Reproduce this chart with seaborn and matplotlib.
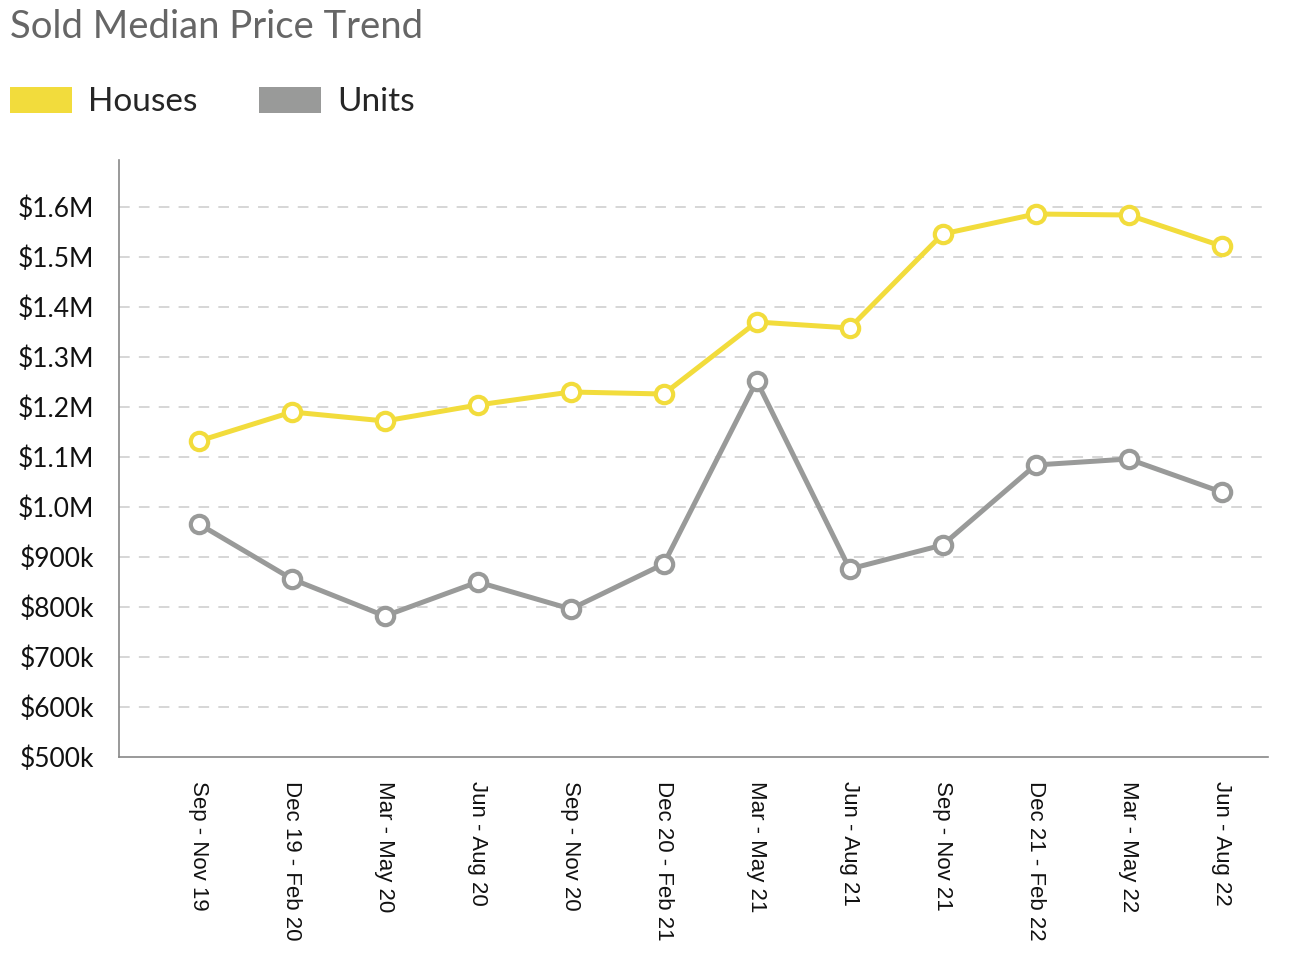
import matplotlib
matplotlib.use("Agg")
import matplotlib.pyplot as plt
import seaborn as sns
import pandas as pd
import numpy as np
from matplotlib.patches import Patch
from matplotlib.ticker import FixedLocator, FuncFormatter

periods = ["Sep - Nov 19", "Dec 19 - Feb 20", "Mar - May 20", "Jun - Aug 20",
           "Sep - Nov 20", "Dec 20 - Feb 21", "Mar - May 21", "Jun - Aug 21",
           "Sep - Nov 21", "Dec 21 - Feb 22", "Mar - May 22", "Jun - Aug 22"]
houses = [1132000, 1190000, 1172000, 1204000, 1230000, 1226000,
          1370000, 1358000, 1546000, 1586000, 1584000, 1522000]
units = [966000, 856000, 782000, 850000, 796000, 886000,
         1252000, 876000, 924000, 1084000, 1096000, 1030000]
series_names = ["Houses", "Units"]
y_ticks = [500000, 600000, 700000, 800000, 900000, 1000000, 1100000,
           1200000, 1300000, 1400000, 1500000, 1600000]

colors = {"Houses": "#F2DC3C", "Units": "#999A99"}

sns.set_theme(style="white")
plt.rcParams['font.family'] = ['Lato', 'DejaVu Sans']

df = pd.DataFrame({
    "idx": list(range(len(periods))) * 2,
    "value": houses + units,
    "series": ["Houses"] * len(periods) + ["Units"] * len(periods),
})

fig = plt.figure(figsize=(13.06, 9.68), dpi=100)
ax = fig.add_axes([119 / 1306, 1 - 757 / 968, (1268 - 119) / 1306, (757 - 160) / 968])

for name in series_names:
    sub = df[df.series == name]
    sns.lineplot(data=sub, x="idx", y="value", ax=ax, color=colors[name],
                 linewidth=3.6, marker="o", markersize=12.5,
                 markerfacecolor="white", markeredgecolor=colors[name],
                 markeredgewidth=3.0, legend=False, zorder=3)

ax.set_xlim(-0.86, 11.5)
ax.set_ylim(500000, 1694000)

ax.yaxis.set_major_locator(FixedLocator(y_ticks))
def fmt(v, pos):
    if v >= 1000000:
        return f"${v/1e6:.1f}M"
    return f"${int(round(v/1000))}k"
ax.yaxis.set_major_formatter(FuncFormatter(fmt))
ax.tick_params(axis="y", length=0, pad=18, labelsize=19, labelcolor="#111111")

ax.set_xticks(range(len(periods)))
ax.set_xticklabels(periods, rotation=270, fontsize=16, color="#111111",
                   family=["Liberation Sans", "DejaVu Sans"])
ax.tick_params(axis="x", which="major", length=0, pad=17)
ax.set_xticks(np.arange(len(periods)) + 0.5, minor=True)
ax.tick_params(axis="x", which="minor", length=9.5, width=1, color="#999999",
               direction="out")
for lbl in ax.get_xticklabels():
    lbl.set_va("top")
    lbl.set_ha("center")

for y in y_ticks[1:]:
    ax.axhline(y, color="#cccccc", linestyle=(0, (7, 6)), linewidth=1.1, zorder=1)

for s in ["top", "right"]:
    ax.spines[s].set_visible(False)
for s in ["left", "bottom"]:
    ax.spines[s].set_color("#888888")
    ax.spines[s].set_linewidth(1.2)
ax.set_xlabel("")
ax.set_ylabel("")

fig.text(10 / 1306, 1 - 27 / 968, "Sold Median Price Trend", fontsize=27.5,
         color="#666666", va="center", ha="left")

handles = [Patch(facecolor=colors[n], edgecolor="none", label=n) for n in series_names]
fig.legend(handles=handles, loc="center left", bbox_to_anchor=(0.0, 1 - 102 / 968),
           ncol=2, frameon=False, fontsize=24, handlelength=1.85, handleheight=0.85,
           handletextpad=0.5, columnspacing=1.85, borderaxespad=0, borderpad=0.3)

fig.savefig("out.png", dpi=100)
